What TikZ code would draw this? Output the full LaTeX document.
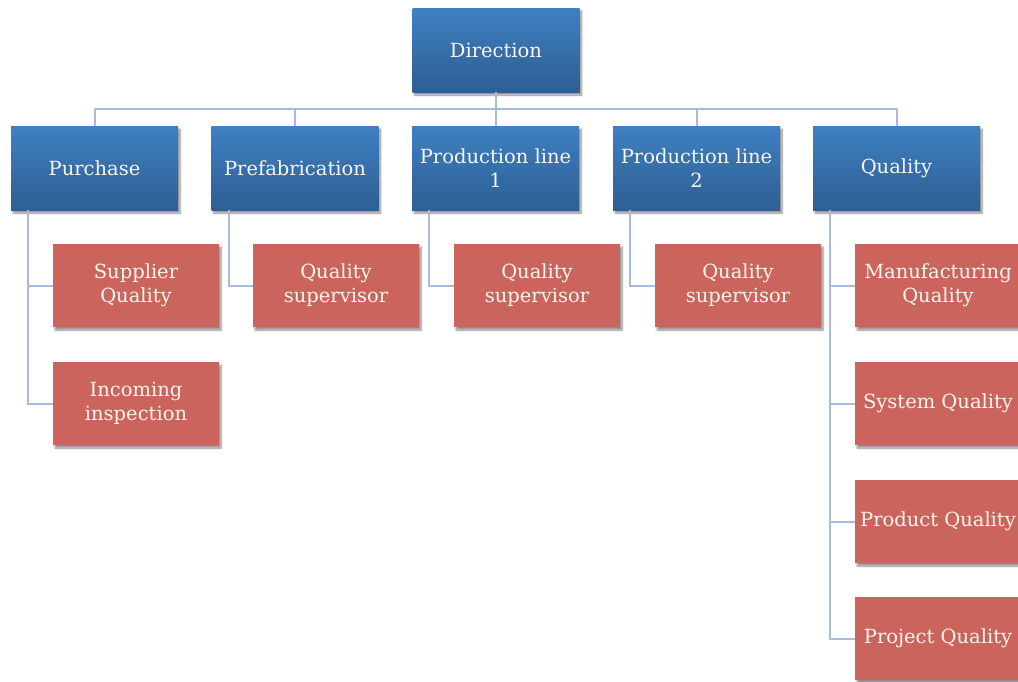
\documentclass[tikz,border=0pt]{standalone}
\usepackage{fontspec}
\setmainfont{DejaVu Serif}
\usepackage{tikz}
\usetikzlibrary{positioning, shadows.blur}
\usepackage{xcolor}
\definecolor{boxblueA}{HTML}{3E80C1}
\definecolor{boxblueB}{HTML}{2E5E94}
\definecolor{boxred}{HTML}{CC645E}
\definecolor{linkblue}{HTML}{A7BCDD}
\definecolor{boxtext}{HTML}{FAF6EE}

\begin{document}
\begin{tikzpicture}
		[   x=1pt, y=-1pt,
			bnode/.style={rectangle,top color=boxblueA,bottom color=boxblueB,draw=none,
				minimum width=167pt,minimum height=84pt,inner sep=2pt,align=center,
				text=boxtext,font=\fontsize{19.5}{24}\selectfont,
				blur shadow={shadow xshift=2pt,shadow yshift=-3pt,shadow blur steps=6,shadow opacity=45}},
			rnode/.style={rectangle,fill=boxred,draw=none,
				minimum width=166pt,minimum height=83pt,inner sep=2pt,align=center,
				text=boxtext,font=\fontsize{19.5}{24}\selectfont,
				blur shadow={shadow xshift=2pt,shadow yshift=-3pt,shadow blur steps=6,shadow opacity=45}},
		]
		\tikzset{link/.style={draw=linkblue,line width=2pt}}
		\useasboundingbox (0,0) rectangle (1018,681);
		\clip (0,0) rectangle (1018,681);
		
		\node[bnode] (top) at (496,50) {Direction};
		
		\node[bnode] (b-1) at (94.5,168) {Purchase};
		\node[bnode] (b-2) at (295,168) {Prefabrication};
		\node[bnode] (b-3) at (495.5,168) {Production line\\1};
		\node[bnode] (b-4) at (696.5,168) {Production line\\2};
		\node[bnode] (b-5) at (896.5,168) {Quality};
		
		\node[rnode] (s-1) at (136,285.5) {Supplier\\Quality};
		\node[rnode] (s-2) at (136,403.5) {Incoming\\inspection};
		
		\node[rnode] (p-2) at (336,285.5) {Quality\\supervisor};
		\node[rnode] (p-3) at (537,285.5) {Quality\\supervisor};
		\node[rnode] (p-4) at (738,285.5) {Quality\\supervisor};
		
		\node[rnode] (q-1) at (938,285.5) {Manufacturing\\Quality};
		\node[rnode] (q-2) at (938,403.5) {System Quality};
		\node[rnode] (q-3) at (938,521.5) {Product Quality};
		\node[rnode] (q-4) at (938,638.5) {Project Quality};
		
		
		\foreach \x in {1,...,5}
		{
			\path[link] (top.south) -- ++(0,17) -| (b-\x.north);
		}
		
		\foreach \x in {1,2}
		{
			\path[link] ([xshift=-66.5pt]b-1.south) |- (s-\x.west);
		}
		
		\foreach \x in {2,...,4}
		{
			\path[link] ([xshift=-66.5pt]b-\x.south) |- (p-\x.west);
		}
		
		\foreach \x in {1,...,4}
		{
			\path[link] ([xshift=-66.5pt]b-5.south) |- (q-\x.west);
		}
\end{tikzpicture}
\end{document}
